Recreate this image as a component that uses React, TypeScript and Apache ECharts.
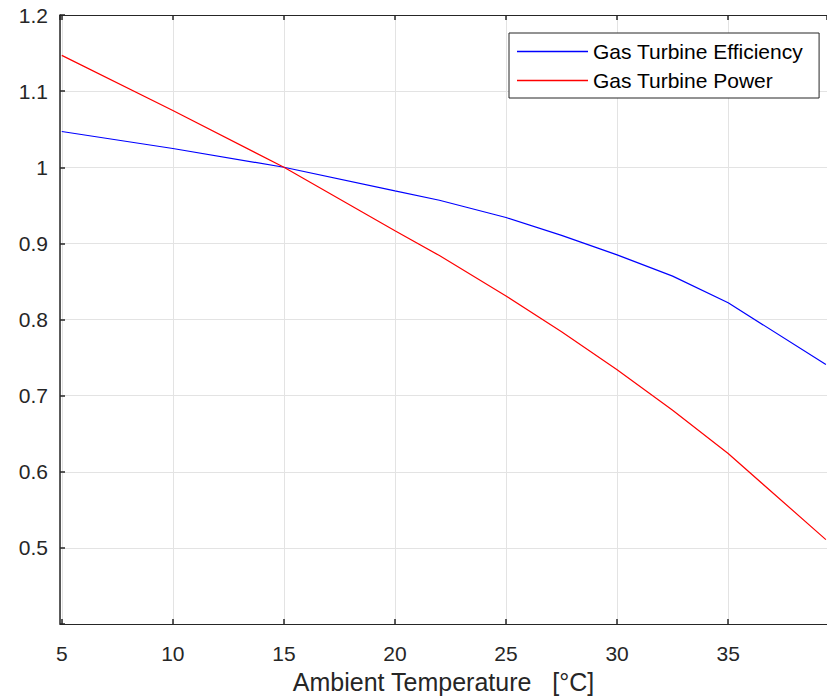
import React, { useEffect, useRef } from "react";
import * as echarts from "echarts";

const temperatures = [5, 10, 15, 20, 22, 25, 27.5, 30, 32.5, 35, 39.4];
const efficiency = [1.047, 1.0247, 1.0, 0.969, 0.9567, 0.934, 0.9106, 0.885, 0.857, 0.822, 0.741];
const power = [1.147, 1.0746, 1.0, 0.9165, 0.884, 0.831, 0.784, 0.734, 0.681, 0.624, 0.511];
const seriesNames = ["Gas Turbine Efficiency", "Gas Turbine Power"];
const xTitle = "Ambient Temperature   [°C]";

const FONT = "'Liberation Sans', Arial, Helvetica, sans-serif";
const AX = "#262626";

export default function App() {
  const ref = useRef<HTMLDivElement>(null);
  useEffect(() => {
    if (!ref.current) return;
    const chart = echarts.init(ref.current, undefined, { renderer: "svg" });
    const xMin = 4.92;
    const xMax = 39.45;
    chart.setOption({
      animation: false,
      backgroundColor: "#ffffff",
      textStyle: { fontFamily: FONT },
      grid: { left: 60, top: 15, right: 0, bottom: 70, containLabel: false },
      legend: {
        orient: "vertical",
        left: 509,
        top: 33,
        data: [
          { name: seriesNames[0], icon: "rect" },
          { name: seriesNames[1], icon: "rect" },
        ],
        backgroundColor: "#ffffff",
        borderColor: AX,
        borderWidth: 1,
        borderRadius: 0,
        padding: [8, 16, 7, 8],
        itemWidth: 71,
        itemHeight: 1.6,
        itemGap: 8,
        textStyle: { fontFamily: FONT, fontSize: 21, color: "#000000" },
      },
      xAxis: [
        {
          type: "value",
          min: xMin,
          max: xMax,
          position: "bottom",
          name: xTitle,
          nameLocation: "middle",
          nameGap: 44,
          nameTextStyle: { fontFamily: FONT, fontSize: 25, color: AX },
          axisLine: { show: true, onZero: false, lineStyle: { color: AX, width: 1 } },
          axisTick: { show: true, inside: true, length: 5, lineStyle: { color: AX, width: 1.5 } },
          axisLabel: {
            show: true,
            margin: 19,
            fontSize: 21,
            color: AX,
            fontFamily: FONT,
            showMinLabel: false,
            showMaxLabel: false,
          },
          splitLine: { show: true, lineStyle: { color: "#e3e3e3", width: 1 } },
        },
        {
          type: "value",
          min: xMin,
          max: xMax,
          position: "top",
          axisLine: { show: true, onZero: false, lineStyle: { color: AX, width: 1 } },
          axisTick: { show: true, inside: true, length: 5, lineStyle: { color: AX, width: 1.5 } },
          axisLabel: { show: false },
          splitLine: { show: false },
        },
      ],
      yAxis: {
        type: "value",
        min: 0.4,
        max: 1.2,
        interval: 0.1,
        axisLine: { show: true, onZero: false, lineStyle: { color: AX, width: 1.5 } },
        axisTick: { show: true, inside: true, length: 5, lineStyle: { color: AX, width: 1.5 } },
        axisLabel: {
          margin: 12,
          fontSize: 21,
          color: AX,
          fontFamily: FONT,
          formatter: (v: number) => {
            const r = Math.round(v * 10) / 10;
            if (Math.abs(r - 0.4) < 1e-6) return "";
            return String(r);
          },
        },
        splitLine: { show: true, lineStyle: { color: "#e3e3e3", width: 1 } },
      },
      series: [
        {
          name: seriesNames[0],
          type: "line",
          symbol: "none",
          xAxisIndex: 0,
          data: temperatures.map((t, i) => [t, efficiency[i]]),
          lineStyle: { color: "#0000ff", width: 1.2 },
          itemStyle: { color: "#0000ff" },
        },
        {
          name: seriesNames[1],
          type: "line",
          symbol: "none",
          xAxisIndex: 0,
          data: temperatures.map((t, i) => [t, power[i]]),
          lineStyle: { color: "#ff0000", width: 1.2 },
          itemStyle: { color: "#ff0000" },
        },
      ],
    });
    return () => chart.dispose();
  }, []);
  return (
    <div
      ref={ref}
      style={{ position: "absolute", left: 0, top: 0, width: 827, height: 699 }}
    />
  );
}
